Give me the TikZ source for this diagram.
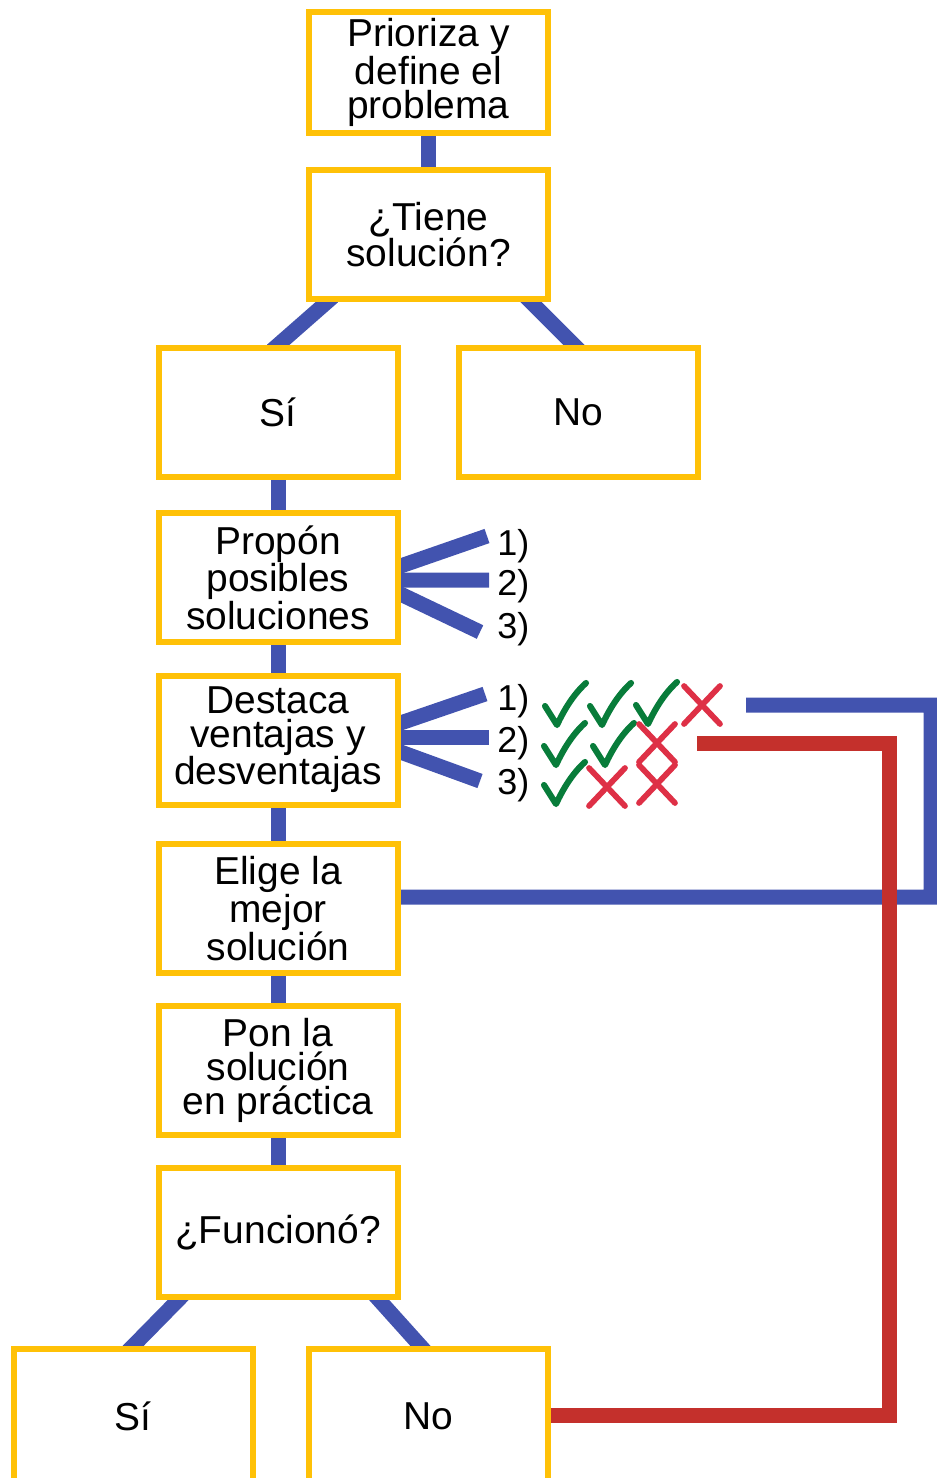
\documentclass[tikz,border=0pt]{standalone}
\usepackage{fontspec}
\setmainfont{Liberation Sans}
\usepackage{tikz}
\usetikzlibrary{calc}
\pgfdeclarelayer{back}
\pgfsetlayers{back,main}
\definecolor{boxyellow}{RGB}{255,193,7}
\definecolor{linkblue}{RGB}{66,83,175}
\definecolor{backred}{RGB}{196,48,44}
\definecolor{tickgreen}{RGB}{8,124,58}
\definecolor{crossred}{RGB}{222,48,70}

\begin{document}
\begin{tikzpicture}[x=0.75pt,y=-0.75pt,
  box/.style={rectangle,draw=boxyellow,line width=4.5pt,fill=white,
    minimum width=179.25pt,minimum height=96.75pt,inner sep=0pt,align=center,
    font=\fontsize{29.2}{25.2}\selectfont},
  lbl/.style={anchor=west,inner sep=0pt,font=\fontsize{27}{25.2}\selectfont},
  link/.style={draw=linkblue,line width=11.25pt,shorten <=-6pt,shorten >=-6pt},
  fan/.style={draw=linkblue,line width=11.25pt,shorten <=-6pt},
  route/.style={line width=11.25pt,line join=miter,shorten >=-4pt},
  okmark/.pic={\draw[tickgreen,line width=4.6pt,line cap=round,line join=round]
    (-20,1) -- (-8,20) .. controls (0,3) and (9,-11) .. (21,-22);},
  nomark/.pic={\draw[crossred,line width=4.3pt,line cap=round]
    (-18,-19) -- (18,19) (-18,19) -- (18,-19);}]
\useasboundingbox (0,0) rectangle (937,1478);
\clip (0,0) rectangle (937,1478);
%Node Coordinates
\node at (428.5,72.5) [box,minimum height=90.75pt] (Prob) {Prioriza y\\define el\\problema};
\node at (428.5,234.5) [box] (Tiene) {¿Tiene\\solución?};
\node at (278,412.5) [box] (SiA) {Sí};
\node at (578,412.5) [box] (NoA) {No};
\node at (278,577.5) [box] (Propon) {Propón\\posibles\\soluciones};
\node at (278,740) [box] (Destaca) {Destaca\\ventajas y\\desventajas};
\node at (278,908.5) [box] (Elige) {Elige la\\mejor\\solución};
\node at (278,1070.5) [box] (Pon) {Pon la\\solución\\en práctica};
\node at (278,1232.5) [box] (Funciono) {¿Funcionó?};
\node at (133,1416.5) [box,minimum height=101.25pt] (SiB) {Sí};
\node at (428.5,1416.5) [box,minimum height=101.25pt] (NoB) {No};
%Free Ends
\coordinate (PropA) at (487,536);
\coordinate (PropB) at (489,580);
\coordinate (PropC) at (480,632);
\coordinate (DestA) at (485,694);
\coordinate (DestB) at (489,737);
\coordinate (DestC) at (480,781);
\coordinate (BlueStart) at (746,705);
\coordinate (BlueTurn) at (931,897);
\coordinate (RedStart) at (697,743);
\coordinate (RedTurn) at (889,1415);
%Option Labels
\node [lbl] at (497,546) (PropOne) {1)};
\node [lbl] at (497,586) (PropTwo) {2)};
\node [lbl] at (497,629) (PropThree) {3)};
\node [lbl] at (497,701) (DestOne) {1)};
\node [lbl] at (497,743) (DestTwo) {2)};
\node [lbl] at (497,785) (DestThree) {3)};
%Connections
\begin{pgfonlayer}{back}
\draw [link] (Prob) -- (Tiene);
\draw [link] ([xshift=15.75pt]Tiene.south west) -- (SiA.north);
\draw [link] ([xshift=-15pt]Tiene.south east) -- ([xshift=-3pt]NoA.north);
\draw [link] (SiA) -- (Propon);
\draw [link] (Propon) -- (Destaca);
\draw [link] (Destaca) -- (Elige);
\draw [link] (Elige) -- (Pon);
\draw [link] (Pon) -- (Funciono);
\draw [link] ([xshift=17pt]Funciono.south west) -- (SiB.north);
\draw [link] ([xshift=-16pt]Funciono.south east) -- ([xshift=-6pt]NoB.north);
\draw [fan] ([yshift=8.6pt]Propon.east) -- (PropA);
\draw [fan] ([yshift=-1.9pt]Propon.east) -- (PropB);
\draw [fan] ([yshift=-12.4pt]Propon.east) -- (PropC);
\draw [fan] ([yshift=12.75pt]Destaca.east) -- (DestA);
\draw [fan] ([yshift=2.25pt]Destaca.east) -- (DestB);
\draw [fan] ([yshift=-9pt]Destaca.east) -- (DestC);
\draw [route,linkblue] (BlueStart) -| (BlueTurn) -- ([yshift=8.6pt]Elige.east);
\draw [route,backred] (RedStart) -| (RedTurn) -- (RedTurn -| NoB.east);
\end{pgfonlayer}
%Marks
\pic at (565,705) {okmark};
\pic at (610,705) {okmark};
\pic at (656,704) {okmark};
\pic at (702,705) {nomark};
\pic at (564,745) {okmark};
\pic at (613,745) {okmark};
\pic at (657,743) {nomark};
\pic at (564,784) {okmark};
\pic at (607,787) {nomark};
\pic at (657,784) {nomark};
\end{tikzpicture}
\end{document}
